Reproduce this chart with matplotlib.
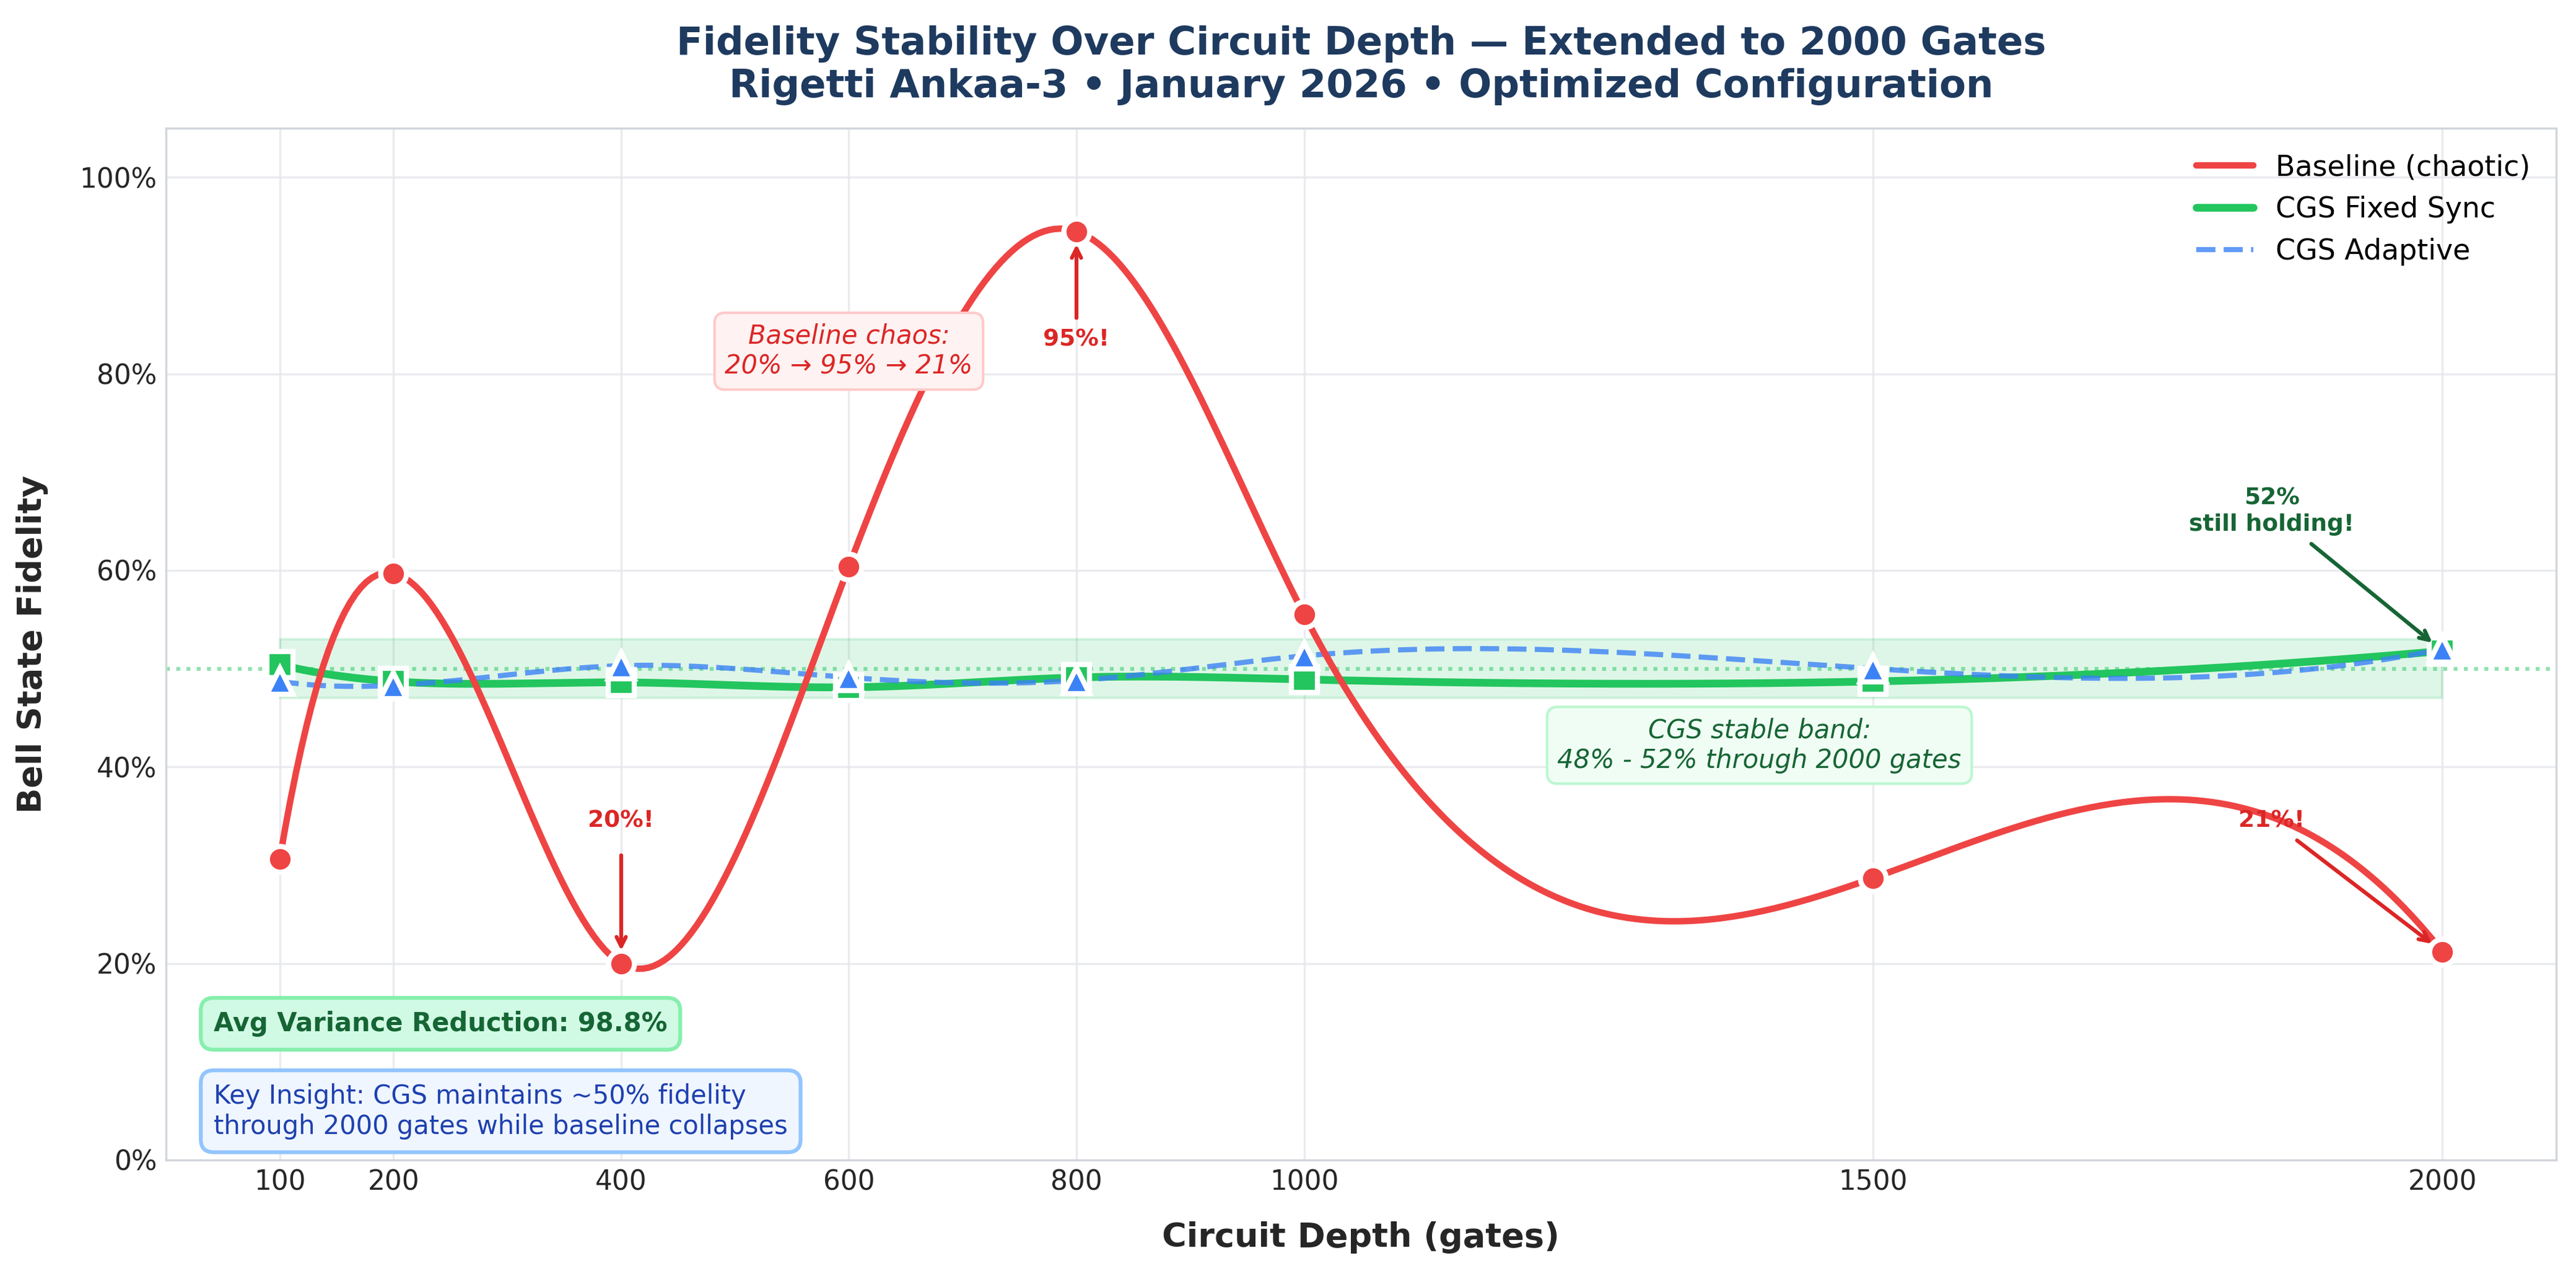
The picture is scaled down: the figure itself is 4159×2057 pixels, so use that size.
import numpy as np
import matplotlib
matplotlib.use("Agg")
import matplotlib.pyplot as plt
from matplotlib.ticker import PercentFormatter

# circuit depth (gates) and measured Bell state fidelity
depth = [100, 200, 400, 600, 800, 1000, 1500, 2000]
baseline = [0.306, 0.597, 0.200, 0.604, 0.945, 0.555, 0.287, 0.212]
fixed_sync = [0.504, 0.487, 0.486, 0.481, 0.491, 0.489, 0.487, 0.518]
adaptive = [0.487, 0.483, 0.503, 0.491, 0.488, 0.513, 0.500, 0.520]

band = (0.47, 0.53)
target = 0.50
xticks = [100, 200, 400, 600, 800, 1000, 1500, 2000]

RED = "#ef4444"
GREEN = "#22c55e"
BLUE = "#3b82f6"
DARK_RED = "#dc2626"
DARK_GREEN = "#166534"


def smooth(x, y, n=400):
    # cubic spline, not-a-knot ends
    x = np.asarray(x, float) / 1000.0
    y = np.asarray(y, float)
    m = len(x) - 1
    A = np.zeros((4 * m, 4 * m))
    b = np.zeros(4 * m)
    r = 0
    for i in range(m):
        h = x[i + 1] - x[i]
        A[r, 4 * i] = 1
        b[r] = y[i]
        r += 1
        A[r, 4 * i:4 * i + 4] = [1, h, h ** 2, h ** 3]
        b[r] = y[i + 1]
        r += 1
    for i in range(m - 1):
        h = x[i + 1] - x[i]
        A[r, 4 * i + 1:4 * i + 4] = [1, 2 * h, 3 * h ** 2]
        A[r, 4 * (i + 1) + 1] = -1
        r += 1
        A[r, 4 * i + 2:4 * i + 4] = [2, 6 * h]
        A[r, 4 * (i + 1) + 2] = -2
        r += 1
    A[r, 3] = 1
    A[r, 7] = -1
    r += 1
    A[r, 4 * (m - 2) + 3] = 1
    A[r, 4 * (m - 1) + 3] = -1
    c = np.linalg.solve(A, b).reshape(m, 4)
    xx = np.linspace(x[0], x[-1], n)
    seg = np.clip(np.searchsorted(x, xx, side="right") - 1, 0, m - 1)
    t = xx - x[seg]
    yy = c[seg, 0] + c[seg, 1] * t + c[seg, 2] * t ** 2 + c[seg, 3] * t ** 3
    return xx * 1000.0, yy


plt.rcParams["lines.solid_capstyle"] = "round"

fig, ax = plt.subplots(figsize=(4159 / 300, 2057 / 300), dpi=300)
fig.subplots_adjust(left=0.0644, right=0.9923, bottom=0.0895, top=0.8994)

# stable band + 50% reference
ax.fill_between([depth[0], depth[-1]], band[0], band[1], color=GREEN, alpha=0.15, zorder=1)
ax.axhline(target, color=GREEN, ls=":", lw=1.5, alpha=0.5, zorder=1)

xs, ys = smooth(depth, baseline)
ax.plot(xs, ys, color=RED, lw=2.5, label="Baseline (chaotic)", zorder=4)
xs, ys = smooth(depth, fixed_sync)
ax.plot(xs, ys, color=GREEN, lw=3, label="CGS Fixed Sync", zorder=3)
xs, ys = smooth(depth, adaptive)
ax.plot(xs, ys, color=BLUE, lw=2, ls="--", alpha=0.8, label="CGS Adaptive", zorder=3)

ax.plot(depth, baseline, "o", ms=10, mfc=RED, mec="white", mew=2, zorder=6)
ax.plot(depth, fixed_sync, "s", ms=10, mfc=GREEN, mec="white", mew=2, zorder=7)
ax.plot(depth, adaptive, "^", ms=10, mfc=BLUE, mec="white", mew=2, zorder=8)

# callouts
arrow_red = dict(arrowstyle="->", color=DARK_RED, lw=1.5, shrinkA=2, shrinkB=5)
ax.annotate("20%!", xy=(400, baseline[2]), xytext=(400, 0.345), ha="center", va="center",
            fontsize=9, fontweight="bold", color=DARK_RED,
            arrowprops=dict(arrow_red, shrinkA=7), zorder=9)
ax.annotate("95%!", xy=(800, baseline[4]), xytext=(800, 0.835), ha="center", va="center",
            fontsize=9, fontweight="bold", color=DARK_RED, arrowprops=arrow_red, zorder=9)
ax.annotate("21%!", xy=(2000, baseline[7]), xytext=(1850, 0.345), ha="center", va="center",
            fontsize=9, fontweight="bold", color=DARK_RED, arrowprops=arrow_red, zorder=9)
ax.annotate("52%\nstill holding!", xy=(2000, fixed_sync[7]), xytext=(1850, 0.66),
            ha="center", va="center", fontsize=9, fontweight="bold", color=DARK_GREEN,
            arrowprops=dict(arrowstyle="->", color=DARK_GREEN, lw=1.5, shrinkA=2, shrinkB=5),
            zorder=9)

ax.text(600, 0.823, "Baseline chaos:\n20% → 95% → 21%", ha="center", va="center",
        fontsize=10, style="italic", color=DARK_RED, zorder=9,
        bbox=dict(boxstyle="round,pad=0.4", fc="#fef2f2", ec="#fecaca", lw=1))
ax.text(1400, 0.422, "CGS stable band:\n48% - 52% through 2000 gates", ha="center", va="center",
        fontsize=10, style="italic", color=DARK_GREEN, zorder=9,
        bbox=dict(boxstyle="round,pad=0.4", fc="#f0fdf4", ec="#bbf7d0", lw=1))

ax.text(0.02, 0.132, "Avg Variance Reduction: 98.8%", transform=ax.transAxes,
        ha="left", va="center", fontsize=10, fontweight="bold", color=DARK_GREEN, zorder=9,
        bbox=dict(boxstyle="round,pad=0.5", fc="#d1fae5", ec="#86efac", lw=1.5))
ax.text(0.02, 0.02, "Key Insight: CGS maintains ~50% fidelity\nthrough 2000 gates while baseline collapses",
        transform=ax.transAxes, ha="left", va="bottom", fontsize=10, color="#1e40af", zorder=9,
        bbox=dict(boxstyle="round,pad=0.5", fc="#eff6ff", ec="#93c5fd", lw=1.5))

ax.set_xlim(0, 2100)
ax.set_ylim(0, 1.05)
ax.set_xticks(xticks)
ax.set_yticks(np.arange(0, 1.01, 0.2))
ax.yaxis.set_major_formatter(PercentFormatter(1.0, decimals=0))
ax.tick_params(length=0, labelsize=10.5, labelcolor="#262626")
ax.grid(True, color="#e5e7eb", lw=0.8, alpha=0.8, zorder=0)
ax.set_axisbelow(True)
for s in ax.spines.values():
    s.set_color("#d1d5db")
    s.set_linewidth(0.8)

ax.set_xlabel("Circuit Depth (gates)", fontsize=13, fontweight="bold", color="#262626", labelpad=10)
ax.set_ylabel("Bell State Fidelity", fontsize=13, fontweight="bold", color="#262626", labelpad=12)
ax.set_title("Fidelity Stability Over Circuit Depth — Extended to 2000 Gates\n"
             "Rigetti Ankaa-3 • January 2026 • Optimized Configuration",
             fontsize=15, fontweight="bold", color="#1e3a5f", pad=12)
ax.legend(loc="upper right", fontsize=11, frameon=False)

fig.savefig("out.png", dpi=300)
